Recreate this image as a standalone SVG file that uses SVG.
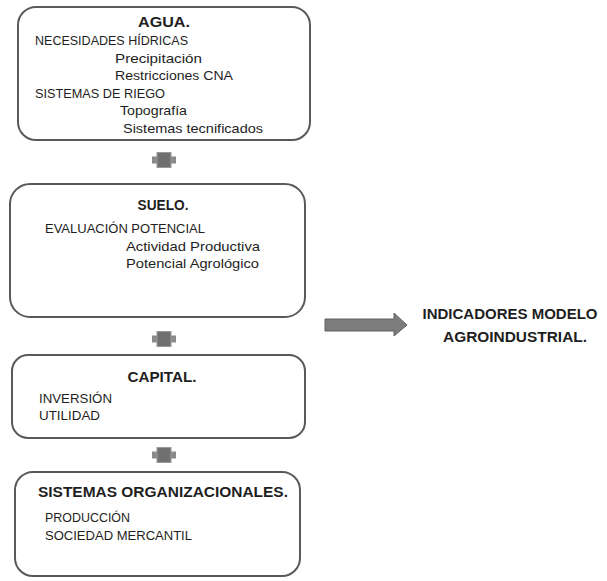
<svg xmlns="http://www.w3.org/2000/svg" xmlns:xlink="http://www.w3.org/1999/xlink" width="607" height="581" viewBox="0 0 607 581">
  <style>
    .box { fill: #ffffff; stroke: #5a5a5a; stroke-width: 2; }
    .t { font-family: "Liberation Sans", Arial, sans-serif; font-size: 13px; fill: #1e1e1e; }
    .title { font-family: "Liberation Sans", Arial, sans-serif; font-size: 14px; font-weight: bold; fill: #1e1e1e; }
    .out { font-family: "Liberation Sans", Arial, sans-serif; font-size: 14px; font-weight: bold; fill: #1e1e1e; }
    .join-arm { fill: #8a8a8a; }
    .join-core { fill: #707070; stroke: #9a9a9a; stroke-width: 1; }
    .arrow { fill: #7c7c7c; stroke: #606060; stroke-width: 1; }
  </style>
  <defs>
    <!-- small "joint" block linking two stacked boxes, centred on 0,0 -->
    <g id="join">
      <rect class="join-arm" x="-12" y="-3.5" width="24" height="7"/>
      <rect class="join-core" x="-7" y="-7.5" width="14" height="15"/>
    </g>
  </defs>

  <rect width="607" height="581" fill="#ffffff"/>

  <g id="connectors">
    <use xlink:href="#join" x="164" y="160"/>
    <use xlink:href="#join" x="164" y="339"/>
    <use xlink:href="#join" x="164" y="455"/>
    <path class="arrow" d="M325,319 L394,319 L394,313 L407,325 L394,336 L394,331 L325,331 Z"/>
  </g>

  <g id="agua">
    <rect class="box" x="18" y="7" width="292" height="133" rx="18" ry="18"/>
    <text class="title" x="164" y="27" text-anchor="middle" textLength="52" lengthAdjust="spacingAndGlyphs">AGUA.</text>
    <text class="t" x="35" y="45" textLength="153" lengthAdjust="spacingAndGlyphs">NECESIDADES HÍDRICAS</text>
    <text class="t" x="115" y="63" textLength="87" lengthAdjust="spacingAndGlyphs">Precipitación</text>
    <text class="t" x="115" y="80" textLength="118" lengthAdjust="spacingAndGlyphs">Restricciones CNA</text>
    <text class="t" x="35" y="98" textLength="130" lengthAdjust="spacingAndGlyphs">SISTEMAS  DE RIEGO</text>
    <text class="t" x="120" y="115" textLength="67" lengthAdjust="spacingAndGlyphs">Topografía</text>
    <text class="t" x="123" y="133" textLength="140" lengthAdjust="spacingAndGlyphs">Sistemas tecnificados</text>
  </g>

  <g id="suelo">
    <rect class="box" x="10" y="184" width="295" height="133" rx="20" ry="20"/>
    <text class="title" x="163" y="210" text-anchor="middle" textLength="51" lengthAdjust="spacingAndGlyphs">SUELO.</text>
    <text class="t" x="45" y="233" textLength="160" lengthAdjust="spacingAndGlyphs">EVALUACIÓN  POTENCIAL</text>
    <text class="t" x="126" y="251" textLength="134" lengthAdjust="spacingAndGlyphs">Actividad Productiva</text>
    <text class="t" x="126" y="268" textLength="133" lengthAdjust="spacingAndGlyphs">Potencial Agrológico</text>
  </g>

  <g id="capital">
    <rect class="box" x="12" y="355" width="293" height="83" rx="16" ry="16"/>
    <text class="title" x="162" y="382" text-anchor="middle" textLength="69" lengthAdjust="spacingAndGlyphs">CAPITAL.</text>
    <text class="t" x="39" y="403" textLength="73" lengthAdjust="spacingAndGlyphs">INVERSIÓN</text>
    <text class="t" x="39" y="420" textLength="61" lengthAdjust="spacingAndGlyphs">UTILIDAD</text>
  </g>

  <g id="sistemas-organizacionales">
    <rect class="box" x="15" y="472" width="285" height="104" rx="18" ry="18"/>
    <text class="title" x="38" y="497" textLength="250" lengthAdjust="spacingAndGlyphs">SISTEMAS ORGANIZACIONALES.</text>
    <text class="t" x="45" y="522" textLength="85" lengthAdjust="spacingAndGlyphs">PRODUCCIÓN</text>
    <text class="t" x="45" y="540" textLength="147" lengthAdjust="spacingAndGlyphs">SOCIEDAD  MERCANTIL</text>
  </g>

  <g id="indicadores">
    <text class="out" x="510" y="319" text-anchor="middle" textLength="175" lengthAdjust="spacingAndGlyphs">INDICADORES MODELO</text>
    <text class="out" x="515" y="342" text-anchor="middle" textLength="144" lengthAdjust="spacingAndGlyphs">AGROINDUSTRIAL.</text>
  </g>
</svg>
